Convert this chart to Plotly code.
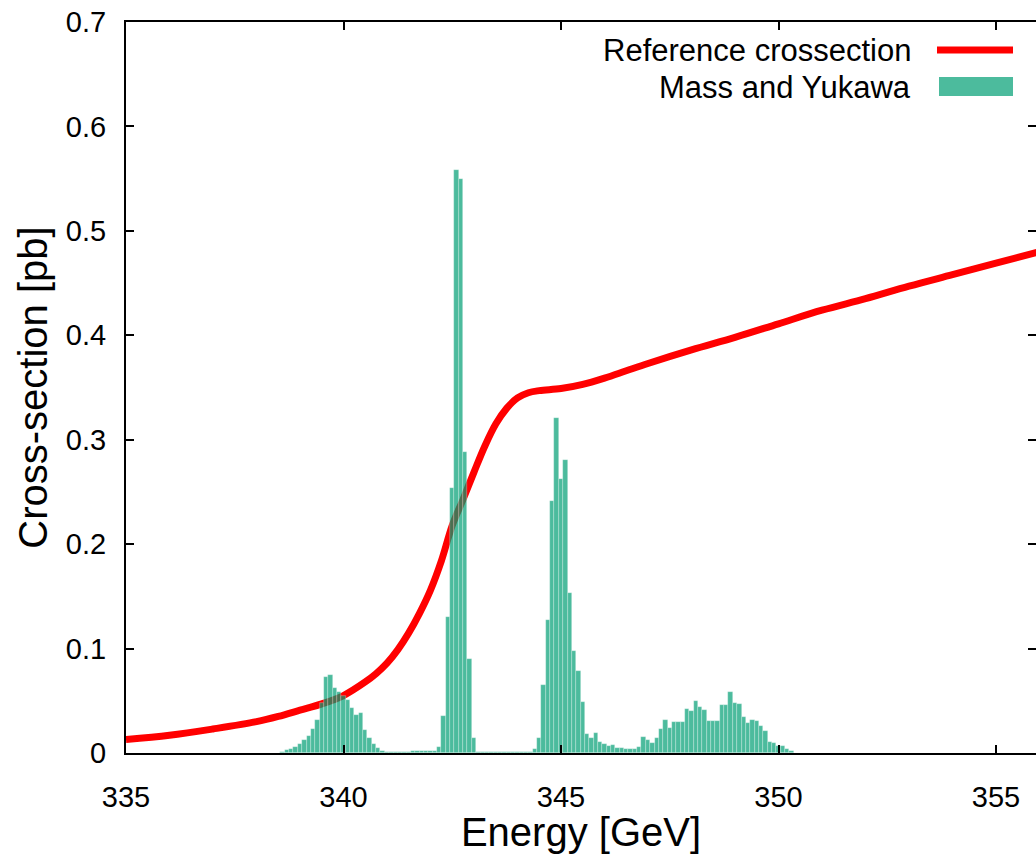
import plotly.graph_objects as go

# ---------------- data ----------------
curve_energy = [335.0, 336.0, 337.0, 338.0, 338.5, 339.0, 339.5, 340.0, 340.5, 340.75,
                341.0, 341.25, 341.5, 341.75, 342.0, 342.25, 342.5, 342.75, 343.0, 343.25,
                343.5, 343.75, 344.0, 344.25, 344.5, 345.0, 345.5, 346.0, 346.5, 347.0,
                348.0, 349.0, 350.0, 351.0, 352.0, 353.0, 354.0, 355.0, 356.0]
curve_xsec = [0.013, 0.017, 0.023, 0.030, 0.035, 0.041, 0.047, 0.055, 0.068, 0.076,
              0.086, 0.099, 0.115, 0.134, 0.156, 0.184, 0.218, 0.243, 0.269, 0.294,
              0.315, 0.330, 0.340, 0.345, 0.347, 0.349, 0.353, 0.359, 0.366, 0.373,
              0.386, 0.398, 0.411, 0.424, 0.435, 0.447, 0.458, 0.469, 0.480]

hist_energy = [
    338.6, 338.7, 338.8, 338.9, 339.0, 339.1, 339.2, 339.3, 339.4, 339.5,
    339.6, 339.7, 339.8, 339.9, 340.0, 340.1, 340.2, 340.3, 340.4, 340.5,
    340.6, 340.7, 340.8, 340.9, 341.0, 341.1, 341.2, 341.3, 341.4, 341.5,
    341.6, 341.7, 341.8, 341.9, 342.0, 342.1, 342.2, 342.3, 342.4, 342.5,
    342.6, 342.7, 342.8, 342.9, 343.0, 343.1, 343.2, 343.3, 343.4, 343.5,
    343.6, 343.7, 343.8, 343.9, 344.0, 344.1, 344.2, 344.3, 344.4, 344.5,
    344.6, 344.7, 344.8, 344.9, 345.0, 345.1, 345.2, 345.3, 345.4, 345.5,
    345.6, 345.7, 345.8, 345.9, 346.0, 346.1, 346.2, 346.3, 346.4, 346.5,
    346.6, 346.7, 346.8, 346.9, 347.0, 347.1, 347.2, 347.3, 347.4, 347.5,
    347.6, 347.7, 347.8, 347.9, 348.0, 348.1, 348.2, 348.3, 348.4, 348.5,
    348.6, 348.7, 348.8, 348.9, 349.0, 349.1, 349.2, 349.3, 349.4, 349.5,
    349.6, 349.7, 349.8, 349.9, 350.0, 350.1, 350.2, 350.3]
hist_xsec = [
    0.001, 0.003, 0.004, 0.006, 0.009, 0.012, 0.016, 0.023, 0.032, 0.048,
    0.073, 0.075, 0.062, 0.058, 0.055, 0.051, 0.043, 0.036, 0.038, 0.022,
    0.014, 0.009, 0.005, 0.002, 0.001, 0.0005, 0.0005, 0.001, 0.001, 0.001,
    0.0015, 0.0015, 0.0015, 0.0015, 0.0015, 0.002, 0.006, 0.035, 0.130, 0.254,
    0.558, 0.550, 0.288, 0.090, 0.014, 0.001, 0.001, 0.001, 0.001, 0.001,
    0.001, 0.001, 0.001, 0.001, 0.001, 0.001, 0.001, 0.001, 0.004, 0.014,
    0.065, 0.127, 0.241, 0.321, 0.262, 0.281, 0.153, 0.098, 0.079, 0.049,
    0.018, 0.014, 0.019, 0.011, 0.009, 0.007, 0.008, 0.005, 0.005, 0.004,
    0.004, 0.004, 0.006, 0.015, 0.012, 0.010, 0.014, 0.023, 0.032, 0.024,
    0.030, 0.030, 0.030, 0.042, 0.040, 0.050, 0.044, 0.041, 0.031, 0.031,
    0.031, 0.046, 0.046, 0.058, 0.048, 0.047, 0.034, 0.029, 0.032, 0.031,
    0.026, 0.021, 0.011, 0.010, 0.007, 0.007, 0.004, 0.002]

x_ticks = [335, 340, 345, 350, 355]
y_ticks = [0, 0.1, 0.2, 0.3, 0.4, 0.5, 0.6, 0.7]
y_tick_labels = ["0", "0.1", "0.2", "0.3", "0.4", "0.5", "0.6", "0.7"]
series_names = ["Reference crossection", "Mass and Yukawa"]

# ---------------- layout constants ----------------
W, H = 1036, 854
ML, MR, MT, MB = 126, 0, 22, 101
XR = [335, 335 + (W - ML - MR) / 43.5]
YR = [0, 0.7]
FONT = "Liberation Sans, Arial, sans-serif"
RED = "#ff0000"
TEAL = "rgba(0,158,115,0.7)"

pw, ph = W - ML - MR, H - MT - MB


def px(xp):
    return (xp - ML) / pw


def py(yp):
    return (H - MB - yp) / ph


fig = go.Figure()
fig.add_trace(go.Scatter(
    x=curve_energy, y=curve_xsec, mode="lines",
    line=dict(color=RED, width=7, shape="spline", smoothing=1.0),
    name=series_names[0], showlegend=False, xaxis="x", yaxis="y"))
fig.add_trace(go.Bar(
    x=hist_energy, y=hist_xsec, width=0.1,
    marker=dict(color=TEAL, line=dict(color="rgba(255,255,255,0.45)", width=0.6)),
    name=series_names[1], showlegend=False, xaxis="x2", yaxis="y2"))

axis_common = dict(ticks="inside", ticklen=8, tickwidth=2, tickcolor="black",
                   showgrid=False, zeroline=False)

fig.update_layout(
    width=W, height=H,
    margin=dict(l=ML, r=MR, t=MT, b=MB, pad=0),
    paper_bgcolor="white", plot_bgcolor="white",
    font=dict(family=FONT, size=29, color="black"),
    showlegend=False, bargap=0,
    xaxis=dict(range=XR, tickvals=x_ticks, ticktext=[str(v) for v in x_ticks],
               showline=True, linecolor="black", linewidth=2, mirror="ticks",
               ticklabelstandoff=17,
               title=dict(text="Energy [GeV]", font=dict(size=40), standoff=4),
               **axis_common),
    yaxis=dict(range=YR, tickvals=y_ticks, ticktext=y_tick_labels,
               showline=True, linecolor="black", linewidth=2, mirror=False,
               ticklabelstandoff=12,
               title=dict(text="Cross-section [pb]", font=dict(size=40), standoff=6),
               **axis_common),
    xaxis2=dict(range=XR, overlaying="x", anchor="y2", visible=False),
    yaxis2=dict(range=YR, overlaying="y", anchor="x2", side="right",
                tickvals=y_ticks, showticklabels=False, showline=False,
                **axis_common),
)

# legend (gnuplot style: text on the left, key on the right)
fig.add_shape(type="line", xref="paper", yref="paper",
              x0=px(937), x1=px(1013), y0=py(50), y1=py(50),
              line=dict(color=RED, width=7))
fig.add_shape(type="rect", xref="paper", yref="paper",
              x0=px(939), x1=px(1013), y0=py(96), y1=py(77),
              line=dict(width=0), fillcolor=TEAL)
for name, yy in zip(series_names, [50, 87]):
    fig.add_annotation(text=name, xref="paper", yref="paper",
                       x=px(913), y=py(yy), xanchor="right", yanchor="middle",
                       showarrow=False, font=dict(size=31, family=FONT, color="black"))

fig.write_html("out.html")
